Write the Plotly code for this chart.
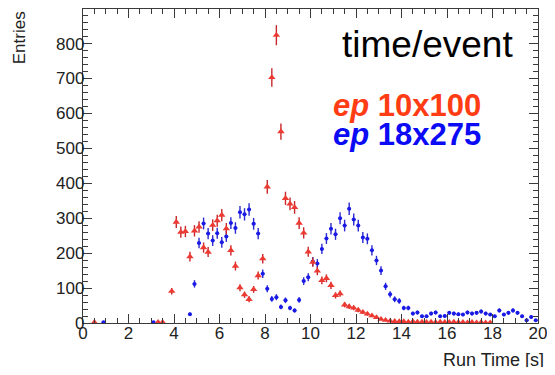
import numpy as np
import plotly.graph_objects as go

# bin centres (0.2 s bins from 0 to 20)
bin_centers = [round(0.1 + 0.2 * i, 1) for i in range(100)]

# ep 10x100 (red) entries per bin, missing = empty bin
red_vals = {
    0.5: 2, 3.3: 2, 3.5: 2, 3.9: 91, 4.1: 289, 4.3: 260, 4.5: 262, 4.7: 190,
    4.9: 264, 5.1: 275, 5.3: 216, 5.5: 203, 5.7: 280, 5.9: 293, 6.1: 309,
    6.3: 270, 6.5: 208, 6.7: 163, 6.9: 101, 7.1: 81, 7.3: 68, 7.5: 96,
    7.7: 136, 7.9: 184, 8.1: 390, 8.3: 703, 8.5: 824, 8.7: 548, 8.9: 357,
    9.1: 341, 9.3: 331, 9.5: 286, 9.7: 258, 9.9: 204, 10.1: 174, 10.3: 149,
    10.5: 122, 10.7: 128, 10.9: 108, 11.1: 79, 11.3: 84, 11.5: 52, 11.7: 47,
    11.9: 43, 12.1: 37, 12.3: 31, 12.5: 26, 12.7: 21, 12.9: 16, 13.1: 11,
    13.3: 8, 13.5: 6, 13.7: 5, 13.9: 4, 14.1: 4, 14.3: 3, 14.5: 4, 14.7: 3,
    14.9: 3, 15.1: 2, 15.3: 3, 15.5: 2, 15.7: 3, 15.9: 2, 16.1: 2, 16.3: 3,
    16.5: 2, 16.7: 2, 16.9: 1, 17.1: 2, 17.3: 1, 17.5: 2, 17.7: 1, 17.9: 1,
}

# ep 18x275 (blue) entries per bin
blue_vals = {
    0.9: 2, 3.1: 2, 4.7: 25, 4.9: 112, 5.1: 229, 5.3: 285, 5.5: 256, 5.7: 236,
    5.9: 257, 6.1: 231, 6.3: 248, 6.5: 286, 6.7: 272, 6.9: 317, 7.1: 311,
    7.3: 325, 7.5: 284, 7.7: 256, 7.9: 141, 8.1: 98, 8.3: 69, 8.5: 74,
    8.7: 46, 8.9: 65, 9.1: 43, 9.3: 36, 9.5: 66, 9.7: 120, 9.9: 131,
    10.1: 176, 10.3: 170, 10.5: 212, 10.7: 242, 10.9: 270, 11.1: 254,
    11.3: 300, 11.5: 279, 11.7: 327, 11.9: 296, 12.1: 279, 12.3: 245,
    12.5: 241, 12.7: 208, 12.9: 179, 13.1: 150, 13.3: 105, 13.5: 82,
    13.7: 68, 13.9: 63, 14.1: 43, 14.3: 43, 14.5: 27, 14.7: 30, 14.9: 19,
    15.1: 19, 15.3: 27, 15.5: 30, 15.7: 19, 15.9: 20, 16.1: 29, 16.3: 27,
    16.5: 25, 16.7: 24, 16.9: 30, 17.1: 27, 17.3: 29, 17.5: 33, 17.7: 27,
    17.9: 24, 18.1: 19, 18.3: 36, 18.5: 24, 18.7: 29, 18.9: 36, 19.1: 29,
    19.3: 19, 19.5: 8, 19.7: 17, 19.9: 8,
}

x_ticks = [0, 2, 4, 6, 8, 10, 12, 14, 16, 18, 20]
y_ticks = [0, 100, 200, 300, 400, 500, 600, 700, 800]

FONT = "Liberation Sans, Arial, Helvetica, sans-serif"


def series(d):
    xs = [c for c in bin_centers if c in d]
    ys = [d[c] for c in xs]
    return xs, ys, list(np.sqrt(ys))


fig = go.Figure()

bx, by, be = series(blue_vals)
fig.add_trace(go.Scatter(
    x=bx, y=by, mode="markers",
    marker=dict(symbol="circle", size=4, color="#1a1ae6"),
    error_y=dict(type="data", array=be, visible=True, color="#2a2ad0",
                 thickness=1.4, width=0),
    error_x=dict(type="constant", value=0.08, visible=True, color="#2a2ad0",
                 thickness=1.3, width=0),
    showlegend=False,
))

rx, ry, re_ = series(red_vals)
fig.add_trace(go.Scatter(
    x=rx, y=ry, mode="markers",
    marker=dict(symbol="triangle-up", size=6.5, color="#ec3a32"),
    error_y=dict(type="data", array=re_, visible=True, color="#c8262a",
                 thickness=1.4, width=0),
    showlegend=False,
))

axis_common = dict(
    showgrid=False, zeroline=False, showline=True, linecolor="#3a3a3a",
    linewidth=1.4, mirror="allticks", ticks="inside", tickcolor="#3a3a3a",
    tickwidth=1.1, ticklen=9, automargin=False, ticklabeloverflow="allow",
    tickfont=dict(family=FONT, size=17, color="#222222"),
)

fig.update_xaxes(
    range=[0, 20], tickmode="array", tickvals=x_ticks,
    ticktext=[str(v) for v in x_ticks],
    minor=dict(ticks="inside", dtick=0.5, tick0=0, ticklen=5,
               tickcolor="#3a3a3a", tickwidth=1),
    ticklabelstandoff=-6,
    **axis_common,
)
fig.update_yaxes(
    range=[0, 899], tickmode="array", tickvals=y_ticks,
    ticktext=[str(v) for v in y_ticks],
    minor=dict(ticks="inside", dtick=20, tick0=0, ticklen=5,
               tickcolor="#3a3a3a", tickwidth=1),
    ticklabelstandoff=-6,
    **axis_common,
)

fig.update_layout(
    width=547, height=359,
    margin=dict(l=75, r=17, t=1, b=44),
    paper_bgcolor="white", plot_bgcolor="white",
    annotations=[
        dict(text="Entries", xref="paper", yref="paper", x=-0.139, y=1.0,
             xanchor="center", yanchor="top", textangle=-90, showarrow=False,
             font=dict(family=FONT, size=17, color="#222222")),
        dict(text="Run Time [s]", xref="paper", yref="paper", x=1.0, y=-0.118,
             xanchor="right", yanchor="middle", xshift=8, showarrow=False,
             font=dict(family=FONT, size=18, color="#222222")),
        dict(text="time/event", xref="paper", yref="paper", x=0.565, y=0.887,
             xanchor="left", yanchor="middle", showarrow=False,
             font=dict(family=FONT, size=37, color="#000000")),
        dict(text="<b><i>ep</i> 10x100</b>", xref="paper", yref="paper",
             x=0.545, y=0.694, xanchor="left", yanchor="middle", showarrow=False,
             font=dict(family=FONT, size=31, color="#ff3c14")),
        dict(text="<b><i>ep</i> 18x275</b>", xref="paper", yref="paper",
             x=0.545, y=0.599, xanchor="left", yanchor="middle", showarrow=False,
             font=dict(family=FONT, size=31, color="#0a0af5")),
    ],
)

fig.write_html("out.html")
